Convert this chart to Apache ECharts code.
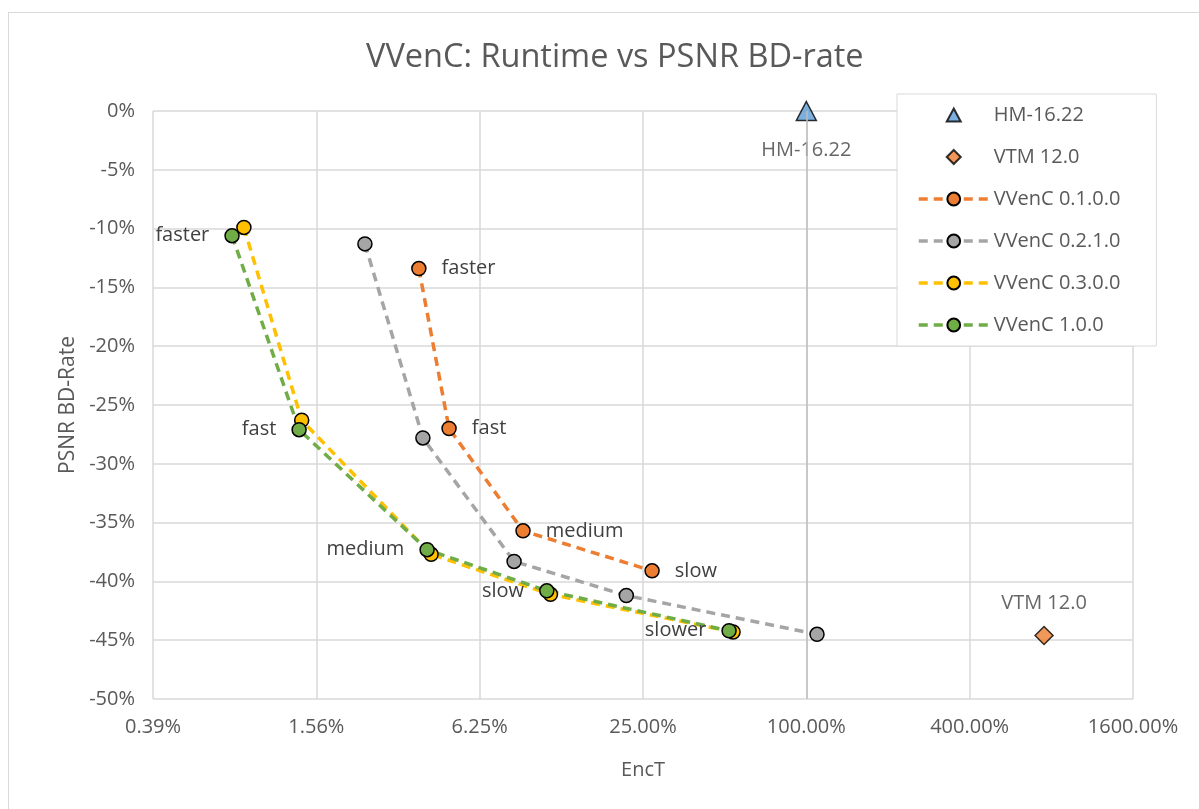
<!DOCTYPE html>
<html>
<head>
<meta charset="utf-8">
<script src="https://cdn.jsdelivr.net/npm/echarts@6/dist/echarts.min.js"></script>
<style>
  html, body { margin: 0; padding: 0; background: #fff; }
  #frame { position: absolute; left: 8px; top: 12px; right: -2px; bottom: -2px; border: 1px solid #d9d9d9; }
  #chart { width: 1199px; height: 809px; position: absolute; left: 0; top: 0; }
</style>
</head>
<body>
<div id="frame"></div>
<div id="chart"></div>
<script>
// 编码时间 (EncT, %) 和 PSNR BD-rate (%)
var hmX = [100];
var hmY = [0];
var vtmX = [752];
var vtmY = [-44.6];

var v010X = [3.73, 4.82, 9.03, 27.0];
var v010Y = [-13.4, -27.0, -35.7, -39.1];

var v021X = [2.36, 3.86, 8.37, 21.7, 109.5];
var v021Y = [-11.3, -27.8, -38.3, -41.2, -44.5];

var v030X = [0.845, 1.38, 4.14, 11.4, 53.7];
var v030Y = [-9.9, -26.3, -37.7, -41.1, -44.3];

var v100X = [0.764, 1.35, 4.0, 11.05, 51.9];
var v100Y = [-10.6, -27.1, -37.3, -40.8, -44.2];

// 预设名称
var presets = ['faster', 'fast', 'medium', 'slow', 'slower'];

var FONT = 'Open Sans';

// x轴用比例 (1 = 100%)，这样 4 的幂刚好落在刻度上
function pts(xs, ys) {
  return xs.map(function (x, i) { return [x / 100, ys[i]]; });
}

// 带标签的点
function labelled(xs, ys, names, pos) {
  return xs.map(function (x, i) {
    return {
      value: [x / 100, ys[i]],
      label: { show: true, formatter: names[i], position: pos }
    };
  });
}

function vvencSeries(name, color, data) {
  return {
    name: name,
    type: 'line',
    data: data,
    symbol: 'circle',
    symbolSize: 14,
    lineStyle: { color: color, width: 3.5, type: [9, 6] },
    itemStyle: { color: color, borderColor: '#000', borderWidth: 1.5 },
    label: { fontFamily: FONT, fontSize: 20, color: '#404040', distance: 15 },
    emphasis: { disabled: true },
    z: 3
  };
}

var chart = echarts.init(document.getElementById('chart'));

var option = {
  animation: false,
  title: {
    text: 'VVenC: Runtime vs PSNR BD-rate',
    left: 361,
    top: 36,
    textStyle: { fontFamily: FONT, fontSize: 32.5, fontWeight: 'normal', color: '#595959' }
  },
  legend: {
    orient: 'vertical',
    left: 897,
    top: 94,
    padding: [11, 36, 11, 20],
    itemWidth: 70,
    itemHeight: 16,
    itemGap: 22,
    backgroundColor: '#fff',
    borderColor: '#d9d9d9',
    borderWidth: 1,
    lineStyle: { width: 3.5 },
    textStyle: { fontFamily: FONT, fontSize: 20, color: '#595959', lineHeight: 20 },
    data: [
      { name: 'HM-16.22', icon: 'path://M8,1.5 L15,14.5 L1,14.5 Z M0,0 L0,0 M16,16 L16,16' },
      { name: 'VTM 12.0', icon: 'path://M8,1 L15,8 L8,15 L1,8 Z M0,0 L0,0 M16,16 L16,16' },
      'VVenC 0.1.0.0', 'VVenC 0.2.1.0', 'VVenC 0.3.0.0', 'VVenC 1.0.0'
    ]
  },
  grid: { left: 153, right: 66, top: 111, bottom: 110 },
  xAxis: {
    type: 'log',
    logBase: 4,
    min: 0.00390625,
    max: 16,
    name: 'EncT',
    nameLocation: 'middle',
    nameGap: 61,
    nameTextStyle: { fontFamily: FONT, fontSize: 20, color: '#595959' },
    axisLine: { show: false },
    axisTick: { show: false },
    axisLabel: {
      fontFamily: FONT, fontSize: 20, color: '#595959', margin: 18,
      formatter: function (v) { return (v * 100).toFixed(2) + '%'; }
    },
    splitLine: { show: true, lineStyle: { color: '#d9d9d9', width: 1.5 } }
  },
  yAxis: {
    type: 'value',
    min: -50,
    max: 0,
    interval: 5,
    name: 'PSNR BD-Rate',
    nameLocation: 'middle',
    nameGap: 69,
    nameTextStyle: { fontFamily: FONT, fontSize: 21, color: '#595959' },
    axisLine: { show: false },
    axisTick: { show: false },
    axisLabel: {
      fontFamily: FONT, fontSize: 20, color: '#595959', margin: 18,
      formatter: function (v) { return v + '%'; }
    },
    splitLine: { show: true, lineStyle: { color: '#d9d9d9', width: 1.5 } }
  },
  series: [
    {
      name: 'HM-16.22',
      type: 'scatter',
      data: labelled(hmX, hmY, ['HM-16.22'], 'bottom'),
      symbol: 'triangle',
      symbolSize: [20, 19],
      itemStyle: { color: '#5B9BD5', borderColor: '#000', borderWidth: 1.5 },
      label: { fontFamily: FONT, fontSize: 20, color: '#404040', distance: 19 },
      markLine: {
        silent: true,
        symbol: 'none',
        label: { show: false },
        lineStyle: { color: '#bfbfbf', width: 1.5, type: 'solid' },
        data: [{ xAxis: 1 }]
      },
      z: 4
    },
    {
      name: 'VTM 12.0',
      type: 'scatter',
      data: labelled(vtmX, vtmY, ['VTM 12.0'], 'top'),
      symbol: 'diamond',
      symbolSize: 18,
      itemStyle: { color: '#ED7D31', borderColor: '#000', borderWidth: 1.5 },
      label: { fontFamily: FONT, fontSize: 20, color: '#404040', distance: 12 },
      z: 4
    },
    vvencSeries('VVenC 0.1.0.0', '#ED7D31', labelled(v010X, v010Y, presets, 'right')),
    vvencSeries('VVenC 0.2.1.0', '#A5A5A5', pts(v021X, v021Y)),
    vvencSeries('VVenC 0.3.0.0', '#FFC000', pts(v030X, v030Y)),
    vvencSeries('VVenC 1.0.0', '#70AD47', labelled(v100X, v100Y, presets, 'left'))
  ]
};

chart.setOption(option);
</script>
</body>
</html>
